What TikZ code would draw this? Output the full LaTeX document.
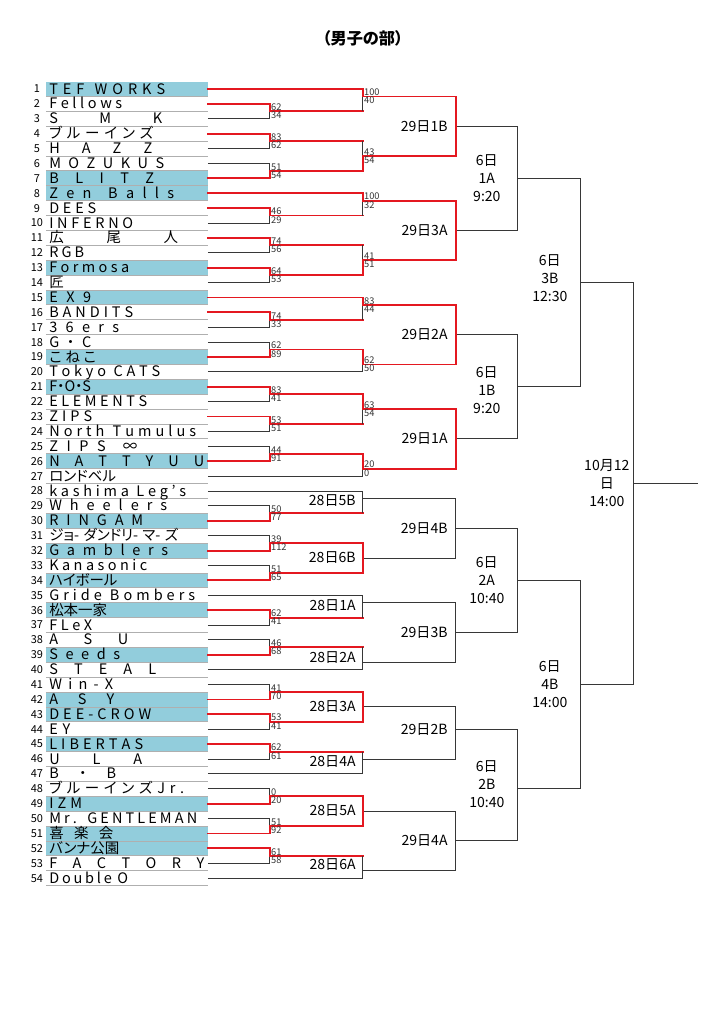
\documentclass[tikz,border=0pt]{standalone}
\usepackage{fontspec}
\setmainfont[RawFeature=+palt]{Noto Sans CJK JP}
\definecolor{winred}{RGB}{228,24,32}
\definecolor{linegray}{RGB}{55,55,55}
\definecolor{hilite}{RGB}{146,205,220}
\definecolor{rowgray}{RGB}{175,175,175}
\newlength\pxunit
\setlength\pxunit{0.025cm}
\tikzset{
  win/.style={draw=winred, line width=1.3pt, line cap=rect},
  lose/.style={draw=linegray, line width=0.7pt},
  score/.style={font=\fontsize{6.6}{7}\selectfont, text=black!80, inner sep=0.3pt},
  team/.style={font=\fontsize{10.3}{11}\selectfont, anchor=west, inner sep=0pt, text height=7.6pt, text depth=0.4pt},
  num/.style={font=\fontsize{7.8}{8}\selectfont, inner sep=0pt},
  game/.style={font=\fontsize{10}{12}\selectfont, anchor=east, inner sep=0pt},
  day/.style={font=\fontsize{10}{13}\selectfont, align=center, inner sep=0pt},
}
\begin{document}
\begin{tikzpicture}[x=0.025cm, y=-0.37225cm]
	\useasboundingbox (0,-4.977) rectangle (724,63.795);
	\node[font=\bfseries\fontsize{11.5}{12}\selectfont] (title) at (363,-2.425) {（男子の部）};
	% team list
	\foreach \r in {1,7,8,13,15,19,21,26,30,32,34,36,39,42,43,45,49,51,52}
		\fill[hilite] (46,\r-.5) rectangle (208,\r+.5);
	\foreach \r in {1,...,54}
		\draw[rowgray, line width=0.6pt] (46,\r+.5) -- (208,\r+.5);
	\foreach \n/\w/\nm in {1/116/{T E F \ W O R K S}, 2/73/{F e l l o w s}, 3/113/{S M K},
		4/104/{ブ ル ー イ ン ズ}, 5/103/{H A Z Z}, 6/115/{M O Z U K U S}, 7/105/{B L I T Z},
		8/125/{Z e n \ B a l l s}, 9/47/{D E E S}, 10/84/{I N F E R N O}, 11/129/{広 尾 人},
		12/35/{R G B}, 13/80/{F o r m o s a}, 14/0/{匠}, 15/42/{E X 9}, 16/84/{B A N D I T S},
		17/70/{3 6 e r s}, 18/42/{G ・ C}, 19/47/{こ ね こ}, 20/111/{T o k y o \ C A T S},
		21/0/{F・O・S}, 22/98/{E L E M E N T S}, 23/43/{Z I P S}, 24/147/{N o r t h \ T u m u l u s},
		25/88/{Z I P S \ ∞}, 26/155/{N A T T Y U U}, 27/0/{ロンドベル}, 28/137/{k a s h i m a \ L e g ' s},
		29/118/{W h e e l e r s}, 30/94/{R I N G A M}, 31/129/{ジョ- ダンドリ- マ- ズ},
		32/119/{G a m b l e r s}, 33/98/{K a n a s o n i c}, 34/0/{ハイボール},
		35/146/{G r i d e \ B o m b e r s}, 36/0/{松本一家}, 37/43/{F L e X}, 38/79/{A S U},
		39/71/{S e e d s}, 40/107/{S T E A L}, 41/64/{W i n - X}, 42/65/{A S Y},
		43/102/{D E E - C R O W}, 44/21/{E Y}, 45/94/{L I B E R T A S}, 46/93/{U L A},
		47/67/{B ・ B}, 48/135/{ブ ル ー イ ン ズ J r .}, 49/33/{I Z M},
		50/148/{M r . G E N T L E M A N}, 51/64/{喜 楽 会}, 52/0/{バンナ公園},
		53/155/{F A C T O R Y}, 54/79/{D o u b l e \ O}}{
		\node[num] (n\n) at (37,\n) {\n};
		\node[team] (t\n) at (49,\n) {\ifnum\w=0 \nm\else\makebox[\w\pxunit][s]{\spaceskip=0pt plus 1fil\relax\nm}\fi};
		\coordinate (e\n) at (208,\n);
	}
	% byes
	\foreach \r in {20,27,28,35,40,47,54}
		\draw[lose] (e\r) -- (363,\r);
	\foreach \r in {1,8,15}
		\draw[win] (e\r) -- (363,\r);
	% first round
	\foreach \a/\w/\sa/\sb in {2/0/62/34, 4/0/83/62, 6/1/51/54, 9/0/46/29, 11/0/74/56, 13/0/64/53,
		16/0/74/33, 18/1/62/89, 21/0/83/41, 23/0/53/51, 25/1/44/91, 29/1/50/77, 31/1/39/112,
		33/1/51/65, 36/0/62/41, 38/1/46/68, 41/1/41/70, 43/0/53/41, 45/0/62/61, 48/1/0/20,
		50/1/51/92, 52/0/61/58}{
		\pgfmathtruncatemacro\wi{\a+\w}
		\pgfmathtruncatemacro\lo{\a+1-\w}
		\draw[lose] (e\lo) -| (270,\a+.5);
		\draw[win] (e\wi) -| (270,\a+.5) -- (363,\a+.5);
		\node[score, anchor=south west] (u\a) at (270.5,\a+.5) {\sa};
		\node[score, anchor=north west] (v\a) at (270.5,\a+.5) {\sb};
	}
	% second round, upper half
	\foreach \wy/\ly/\o/\sa/\sb [count=\k] in {1/2.5/1.5/100/40, 6.5/4.5/5.5/43/54, 8/9.5/8.5/100/32,
		13.5/11.5/12.5/41/51, 15/16.5/15.5/83/44, 18.5/20/19.5/62/50, 21.5/23.5/22.5/63/54,
		25.5/27/26.5/20/0}{
		\draw[lose] (363,\ly) -- (363,\o);
		\draw[win] (363,\wy) -- (363,\o) -- (456,\o);
		\node[score, anchor=south west] (p\k) at (363.5,\o) {\sa};
		\node[score, anchor=north west] (q\k) at (363.5,\o) {\sb};
	}
	% 28日, lower half
	\foreach \p/\q/\o/\f/\g/\ly [count=\k] in {28/29.5/28.5/0/5B/28.67, 31.5/33.5/32.5/1/6B/32.48,
		35/36.5/35.5/0/1A/35.72, 38.5/40/39.5/0/2A/39.19, 41.5/43.5/42.5/1/3A/42.48,
		45.5/47/46/0/4A/46.2, 48.5/50.5/49.5/1/5A/49.49, 52.5/54/53.5/0/6A/53.1}{
		\draw[lose] (363,\o) -- (456,\o);
		\ifnum\f=1 \draw[win] (363,\p) -- (363,\q); \else \draw[lose] (363,\p) -- (363,\q); \fi
		\node[game] (b\k) at (356,\ly) {28日\g};
	}
	% 29日
	\foreach \p/\q/\o/\g [count=\k] in {1.5/5.5/3.5/1B, 8.5/12.5/10.5/3A, 15.5/19.5/17.5/2A, 22.5/26.5/24.5/1A}{
		\draw[lose] (456,\o) -- (518,\o);
		\draw[win] (456,\p) -- (456,\q);
		\node[game] (a\k) at (448,\o) {29日\g};
	}
	\foreach \p/\q/\o/\g [count=\k from 5] in {28.5/32.5/30.5/4B, 35.5/39.5/37.5/3B, 42.5/46/44/2B, 49.5/53.5/51.5/4A}{
		\draw[lose] (456,\p) -- (456,\q) (456,\o) -- (518,\o);
		\node[game] (a\k) at (448,\o) {29日\g};
	}
	% 6日 and final
	\foreach \p/\q/\o in {3.5/10.5/7, 17.5/24.5/21, 30.5/37.5/34, 44/51.5/48}
		\draw[lose] (518,\p) -- (518,\q) (518,\o) -- (581,\o);
	\foreach \p/\q/\o in {7/21/14, 34/48/41}
		\draw[lose] (581,\p) -- (581,\q) (581,\o) -- (634,\o);
	\draw[lose] (634,14) -- (634,41) (634,27.5) -- (698,27.5);
	\node[day] (d1A) at (487,6.98) {6日\\1A\\9:20};
	\node[day] (d1B) at (487,21.22) {6日\\1B\\9:20};
	\node[day] (d3B) at (550,13.71) {6日\\3B\\12:30};
	\node[day] (fin) at (607,27.46) {10月12\\日\\14:00};
	\node[day] (d2A) at (487,33.98) {6日\\2A\\10:40};
	\node[day] (d4B) at (550,40.96) {6日\\4B\\14:00};
	\node[day] (d2B) at (487,47.7) {6日\\2B\\10:40};
\end{tikzpicture}
\end{document}
